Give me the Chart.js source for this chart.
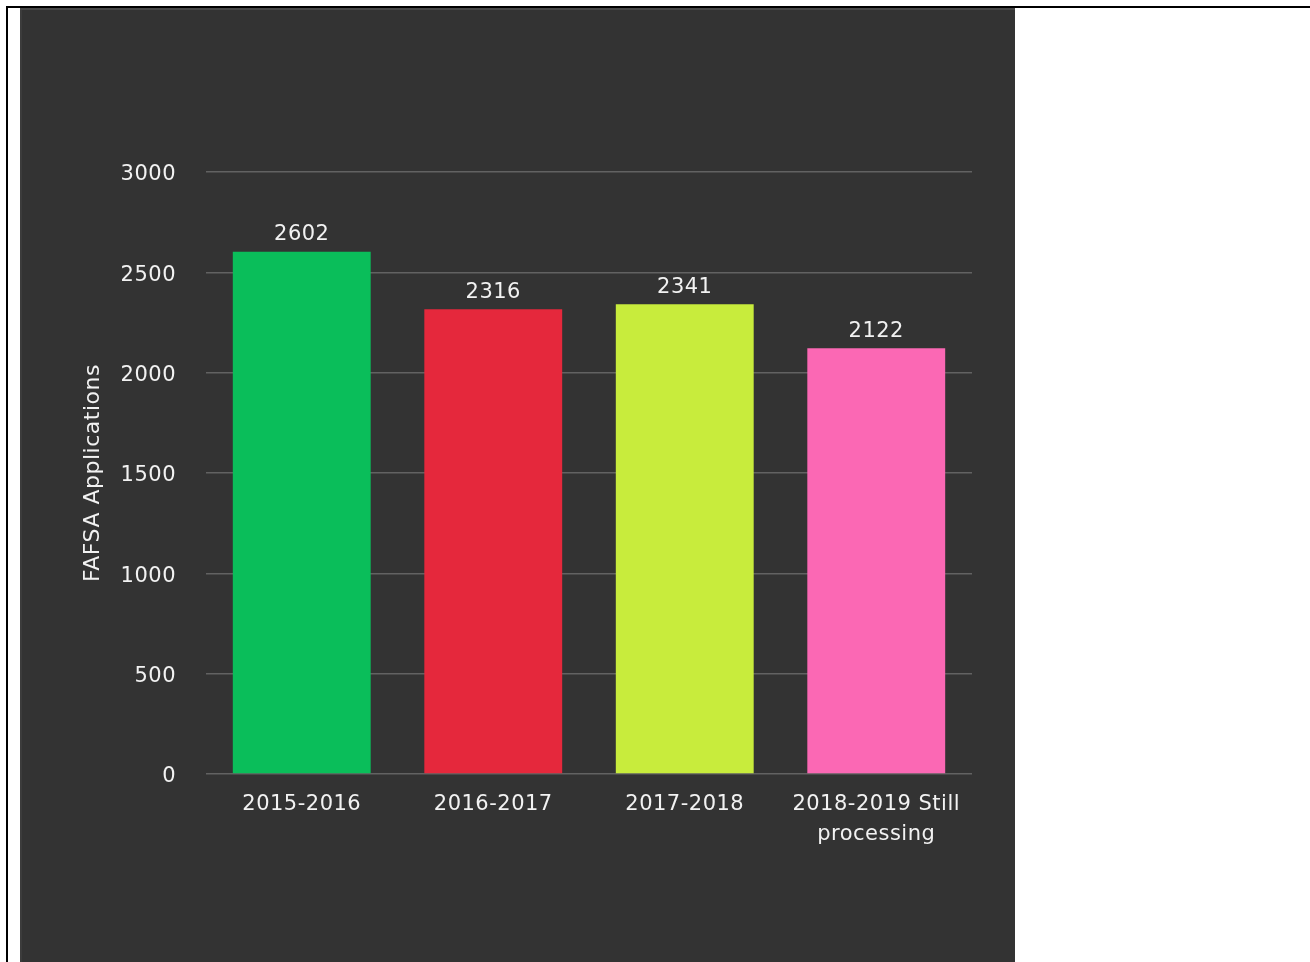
<!DOCTYPE html>
<html>
<head>
<meta charset="utf-8">
<script src="https://cdn.jsdelivr.net/npm/chart.js@4.4.1/dist/chart.umd.min.js"></script>
<style>
  html, body { margin: 0; padding: 0; background: #fff; width: 1310px; height: 962px; overflow: hidden; }
  #frame { position: absolute; left: 6px; top: 6px; width: 1310px; height: 960px;
    border-top: 2px solid #000; border-left: 2px solid #000; }
  #panel { position: absolute; left: 20px; top: 8px; width: 995px; height: 954px; background: #333;
    box-shadow: inset 0 2px 0 #484848, inset 2px 0 0 #3c3c3c; }
  #panel canvas { position: absolute; left: 0; top: 0; }
</style>
</head>
<body>
<div id="frame"></div>
<div id="panel"><canvas id="myChart" width="995" height="954"></canvas></div>
<script>
// chart data
const years = ['2015-2016', '2016-2017', '2017-2018', ['2018-2019 Still', 'processing']];
const applications = [2602, 2316, 2341, 2122];
const barColors = ['#0abe5a', '#e5283c', '#c8ec3c', '#fb68b4'];
const yTicks = [0, 500, 1000, 1500, 2000, 2500, 3000];
const axisTitle = 'FAFSA Applications';

const textColor = '#f2f2f2';
const fontFamily = '"DejaVu Sans", Verdana, sans-serif';

// draw numbers above each bar
const valueLabels = {
  id: 'valueLabels',
  afterDatasetsDraw(chart) {
    const ctx = chart.ctx;
    const meta = chart.getDatasetMeta(0);
    ctx.save();
    ctx.font = '21px ' + fontFamily;
    ctx.fillStyle = textColor;
    ctx.textAlign = 'center';
    ctx.textBaseline = 'middle';
    meta.data.forEach((bar, i) => {
      ctx.fillText(String(applications[i]), bar.x, bar.y - 17);
    });
    ctx.restore();
  }
};

// a bit of spacing between letters, like the original
const spacing = {
  id: 'spacing',
  beforeInit(chart) { chart.ctx.letterSpacing = '0.5px'; },
  beforeDraw(chart) { chart.ctx.letterSpacing = '0.5px'; }
};

const data = {
  labels: years,
  datasets: [{
    label: axisTitle,
    data: applications,
    backgroundColor: barColors,
    borderWidth: 0,
    categoryPercentage: 1,
    barPercentage: 0.72
  }]
};

const config = {
  type: 'bar',
  data,
  plugins: [spacing, valueLabels],
  options: {
    responsive: false,
    animation: false,
    layout: { padding: { top: 164, right: 43, bottom: 0, left: 51 } },
    plugins: {
      legend: { display: false },
      tooltip: { enabled: false }
    },
    scales: {
      x: {
        grid: { display: false, drawTicks: false },
        border: { display: false },
        ticks: {
          color: textColor,
          padding: 16,
          maxRotation: 0,
          font: { family: fontFamily, size: 21, lineHeight: 1.4 }
        },
        afterFit(scale) { scale.height = 188; }
      },
      y: {
        min: 0,
        max: 3000,
        afterBuildTicks(scale) { scale.ticks = yTicks.map(v => ({ value: v })); },
        grid: { color: '#626262', lineWidth: 1.5, drawTicks: false },
        border: { display: false },
        ticks: {
          color: textColor,
          padding: 30,
          labelOffset: 3,
          callback: v => String(v),
          font: { family: fontFamily, size: 21 }
        },
        title: {
          display: true,
          text: axisTitle,
          color: textColor,
          padding: { top: 9, bottom: 0 },
          font: { family: fontFamily, size: 22 }
        },
        afterFit(scale) { scale.width = 135; }
      }
    }
  }
};

const myChart = new Chart(document.getElementById('myChart'), config);
</script>
</body>
</html>
